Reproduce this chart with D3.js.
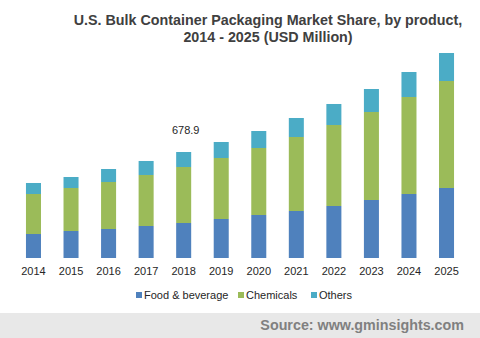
<!DOCTYPE html>
<html>
<head>
<meta charset="utf-8">
<script src="https://cdn.jsdelivr.net/npm/d3@7"></script>
<style>
  html, body { margin: 0; padding: 0; background: #fff; }
  svg { display: block; font-family: "Liberation Sans", Arial, sans-serif; }
</style>
</head>
<body>
<div id="chart"></div>
<script>
const years = ['2014', '2015', '2016', '2017', '2018', '2019', '2020', '2021', '2022', '2023', '2024', '2025'];
const foodBeverage = [153.7, 172.9, 185.7, 205.0, 224.2, 249.8, 275.4, 301.0, 333.1, 371.5, 409.9, 448.4];
const chemicals = [256.2, 275.4, 301.0, 326.7, 358.6, 390.7, 429.1, 474.0, 518.8, 563.6, 621.3, 685.3];
const others = [70.5, 70.5, 83.3, 89.7, 96.1, 102.5, 108.9, 121.7, 134.5, 147.3, 160.1, 179.3];
const seriesNames = ['Food & beverage', 'Chemicals', 'Others'];
const labelYear = '2018';

const width = 480, height = 338;
const colors = ['#4f81bd', '#9bbb59', '#4bacc6'];

const rows = years.map((y, i) => ({
  year: y,
  'Food & beverage': foodBeverage[i],
  'Chemicals': chemicals[i],
  'Others': others[i]
}));

const svg = d3.select('#chart').append('svg')
  .attr('width', width)
  .attr('height', height);

// title
const title = svg.append('text')
  .attr('text-anchor', 'middle')
  .attr('fill', '#404040')
  .style('font-weight', 'bold')
  .style('font-size', '14.3px');
title.append('tspan').attr('x', 268).attr('y', 25)
  .text('U.S. Bulk Container Packaging Market Share, by product,');
title.append('tspan').attr('x', 268).attr('y', 42)
  .text('2014 - 2025 (USD Million)');

const x = d3.scaleBand()
  .domain(years)
  .range([14.7, 465.3])
  .paddingInner(0.6)
  .paddingOuter(0.3);

const y = d3.scaleLinear()
  .domain([0, 678.9])
  .range([258, 152]);

const stack = d3.stack().keys(seriesNames)(rows);

svg.append('g')
  .selectAll('g')
  .data(stack)
  .join('g')
  .attr('fill', (d, i) => colors[i])
  .selectAll('rect')
  .data(d => d)
  .join('rect')
  .attr('x', d => x(d.data.year))
  .attr('width', x.bandwidth())
  .attr('y', d => y(d[1]))
  .attr('height', d => y(d[0]) - y(d[1]));

// value label above 2018
const idx = years.indexOf(labelYear);
const total = foodBeverage[idx] + chemicals[idx] + others[idx];
svg.append('text')
  .attr('x', x(labelYear) + x.bandwidth() / 2 + 2)
  .attr('y', y(total) - 18)
  .attr('text-anchor', 'middle')
  .attr('fill', '#262626')
  .style('font-size', '11px')
  .text(d3.format('.1f')(total));

// x axis labels
const xAxis = svg.append('g')
  .attr('transform', 'translate(0,258)')
  .call(d3.axisBottom(x).tickSize(0).tickPadding(9));
xAxis.select('.domain').remove();
xAxis.selectAll('text')
  .attr('fill', '#262626')
  .style('font-size', '11px')
  .style('font-family', '"Liberation Sans", Arial, sans-serif');

// legend
const legendX = [136, 238, 311];
const legend = svg.append('g')
  .selectAll('g')
  .data(seriesNames)
  .join('g')
  .attr('transform', (d, i) => `translate(${legendX[i]},292)`);
legend.append('rect')
  .attr('width', 6)
  .attr('height', 6)
  .attr('fill', (d, i) => colors[i]);
legend.append('text')
  .attr('x', 8)
  .attr('y', 6.5)
  .attr('fill', '#262626')
  .style('font-size', '11px')
  .text(d => d);

// source band
svg.append('rect')
  .attr('x', 0)
  .attr('y', 313)
  .attr('width', width)
  .attr('height', height - 313)
  .attr('fill', '#e8e8e8');
svg.append('text')
  .attr('x', 464)
  .attr('y', 330)
  .attr('text-anchor', 'end')
  .attr('fill', '#808080')
  .style('font-weight', 'bold')
  .style('font-size', '14.3px')
  .text('Source: www.gminsights.com');
</script>
</body>
</html>
